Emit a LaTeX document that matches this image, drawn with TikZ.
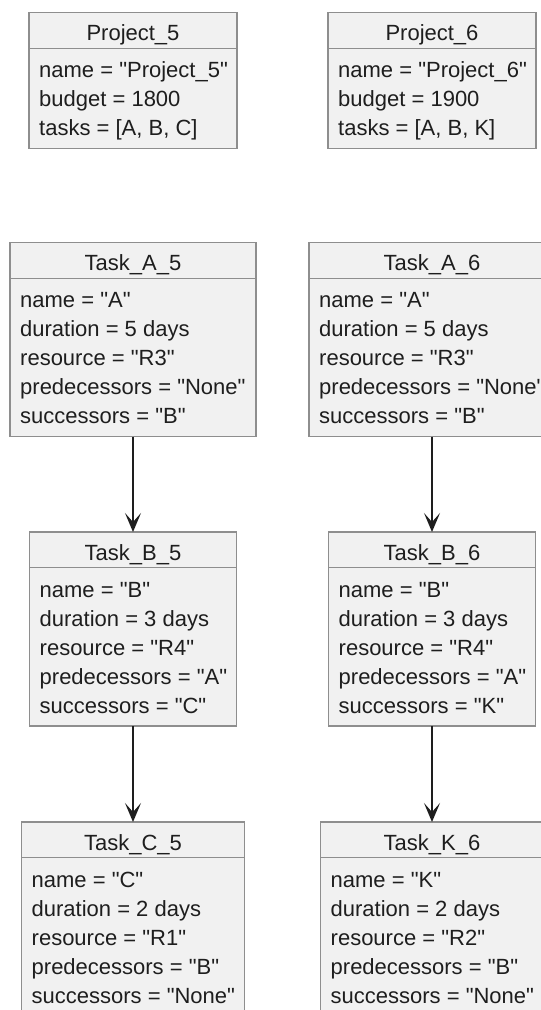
\documentclass[tikz,border=0pt]{standalone}
\usepackage{fontspec}
\setmainfont{Liberation Sans}[Ligatures=TeXOff]
\usetikzlibrary{arrows.meta}

\definecolor{boxfill}{HTML}{F1F1F1}
\definecolor{boxline}{HTML}{8E8E8E}
\definecolor{inkcol}{HTML}{1E1E1E}

\tikzset{
  objbox/.style={draw=boxline, fill=boxfill, line width=1.2pt, inner sep=0pt, outer sep=0pt},
  sepline/.style={draw=boxline, line width=1.2pt},
  titletext/.style={anchor=base, inner sep=0pt, text=inkcol},
  fieldtext/.style={anchor=base west, inner sep=0pt, text=inkcol},
  flow/.style={draw=inkcol, line width=1.3pt, -{Stealth[length=19pt,width=16pt,inset=9pt]}},
}

% object box: name, centre x, top y, width, number of fields, title, {fields}
\newcommand\objectbox[7]{%
  \pgfmathsetmacro\objh{65+29*(#5-1)+13}
  \node[objbox, minimum width=#4pt, minimum height=\objh pt, anchor=north] (#1) at (#2,#3) {};
  \draw[sepline] ([yshift=-35.5pt]#1.north west) -- ([yshift=-35.5pt]#1.north east);
  \node[titletext] (#1-title) at ([yshift=-28pt]#1.north) {#6};
  \foreach \f [count=\i] in {#7} {
    \pgfmathsetmacro\fy{-65-29*(\i-1)}
    \node[fieldtext] (#1-f\i) at ([xshift=10pt,yshift=\fy pt]#1.north west) {\f};
  }
}

\begin{document}
\begin{tikzpicture}[x=1pt, y=-1pt, font=\fontsize{22}{29}\selectfont]
  \useasboundingbox (0,0) rectangle (541,1010);
  \clip (0,0) rectangle (541,1010);
  \fill[white] (0,0) rectangle (541,1010);

  % project 5 chain
  \objectbox{p5}{133}{12.7}{208}{3}{Project\_5}%
    {{name = "Project\_5"},{budget = 1800},{tasks = [A, B, C]}}
  \objectbox{ta5}{133}{242.7}{246}{5}{Task\_A\_5}%
    {{name = "A"},{duration = 5 days},{resource = "R3"},{predecessors = "None"},{successors = "B"}}
  \objectbox{tb5}{133}{532}{207}{5}{Task\_B\_5}%
    {{name = "B"},{duration = 3 days},{resource = "R4"},{predecessors = "A"},{successors = "C"}}
  \objectbox{tc5}{133}{822}{223}{5}{Task\_C\_5}%
    {{name = "C"},{duration = 2 days},{resource = "R1"},{predecessors = "B"},{successors = "None"}}

  % project 6 chain
  \objectbox{p6}{432}{12.7}{208}{3}{Project\_6}%
    {{name = "Project\_6"},{budget = 1900},{tasks = [A, B, K]}}
  \objectbox{ta6}{432}{242.7}{246}{5}{Task\_A\_6}%
    {{name = "A"},{duration = 5 days},{resource = "R3"},{predecessors = "None"},{successors = "B"}}
  \objectbox{tb6}{432}{532}{207}{5}{Task\_B\_6}%
    {{name = "B"},{duration = 3 days},{resource = "R4"},{predecessors = "A"},{successors = "K"}}
  \objectbox{tk6}{432}{822}{223}{5}{Task\_K\_6}%
    {{name = "K"},{duration = 2 days},{resource = "R2"},{predecessors = "B"},{successors = "None"}}

  % task sequencing
  \draw[flow] (ta5.south) -- (tb5.north);
  \draw[flow] (tb5.south) -- (tc5.north);
  \draw[flow] (ta6.south) -- (tb6.north);
  \draw[flow] (tb6.south) -- (tk6.north);
\end{tikzpicture}
\end{document}
